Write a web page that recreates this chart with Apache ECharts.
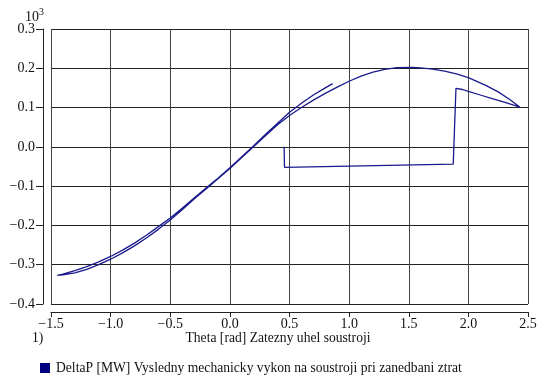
<!DOCTYPE html>
<html>
<head>
<meta charset="utf-8">
<script src="https://cdn.jsdelivr.net/npm/echarts@6/dist/echarts.min.js"></script>
<style>
  html, body { margin: 0; padding: 0; background: #fff; }
  #chart { width: 545px; height: 376px; }
</style>
</head>
<body>
<div id="chart"></div>
<script>
// Trajectory of the machine: load angle Theta [rad] vs. DeltaP [MW x 10^3], in time order.
const theta = [
  0.455, 0.458, 1.873, 1.896,
  1.95, 2.0, 2.1, 2.2, 2.3, 2.433,
  2.35, 2.25, 2.15, 2.0, 1.9, 1.8, 1.7, 1.6, 1.53, 1.4, 1.3, 1.2, 1.1, 1.0,
  0.9, 0.8, 0.7, 0.6, 0.5, 0.4, 0.3, 0.2, 0.1, 0.0,
  -0.1, -0.2, -0.3, -0.4, -0.5, -0.6, -0.7, -0.8, -0.9, -1.0,
  -1.1, -1.2, -1.3, -1.4, -1.447,
  -1.4, -1.3, -1.2, -1.1, -1.0, -0.9, -0.8, -0.7, -0.6, -0.5,
  -0.4, -0.3, -0.2, -0.1, 0.0, 0.1, 0.2, 0.3, 0.4, 0.5,
  0.6, 0.7, 0.8, 0.862
];
const deltaP = [
  0.000, -0.052, -0.044, 0.149,
  0.146, 0.141, 0.132, 0.123, 0.114, 0.101,
  0.120, 0.140, 0.156, 0.176, 0.186, 0.193, 0.198, 0.201, 0.2025, 0.2015, 0.197, 0.190, 0.180, 0.167,
  0.152, 0.136, 0.119, 0.100, 0.080, 0.056, 0.029, 0.001, -0.027, -0.055,
  -0.081, -0.107, -0.133, -0.160, -0.186, -0.210, -0.232, -0.252, -0.270, -0.286,
  -0.300, -0.312, -0.321, -0.326, -0.327,
  -0.324, -0.315, -0.305, -0.293, -0.279, -0.263, -0.245, -0.225, -0.203, -0.181,
  -0.156, -0.130, -0.105, -0.080, -0.053, -0.025, 0.003, 0.032, 0.060, 0.088,
  0.111, 0.132, 0.150, 0.161
];

const xTicks = { min: -1.5, max: 2.5, step: 0.5 };
const yTicks = { min: -0.4, max: 0.3, step: 0.1 };

const seriesName = 'DeltaP [MW] Vysledny mechanicky vykon na soustroji pri zanedbani ztrat';
const xTitle = 'Theta [rad] Zatezny uhel soustroji';
const plotIndex = '1)';

const FONT = '"Liberation Serif", "DejaVu Serif", serif';
const INK = '#111';
const FS = 14;
const FS_TEXT = 13.6;

const fmt = v => {
  if (Math.abs(v) < 1e-9) return '0.0';
  return (v < 0 ? '\u2212' : '') + Math.abs(v).toFixed(1);
};

const points = theta.map((t, i) => [t, deltaP[i]]);

const chart = echarts.init(document.getElementById('chart'), null, { renderer: 'canvas' });
chart.setOption({
  animation: false,
  backgroundColor: '#fff',
  grid: { left: 51, right: 17, top: 29, bottom: 72, containLabel: false },
  xAxis: {
    type: 'value',
    min: xTicks.min, max: xTicks.max, interval: xTicks.step,
    offset: 8,
    axisLine: { show: true, onZero: false, lineStyle: { color: '#222', width: 1 } },
    axisTick: { show: true, inside: false, length: 5, lineStyle: { color: '#222' } },
    axisLabel: { margin: 5, color: INK, fontFamily: FONT, fontSize: FS, formatter: fmt,
                 showMinLabel: true, showMaxLabel: true },
    splitLine: { show: true, lineStyle: { color: '#444', width: 1 } }
  },
  yAxis: {
    type: 'value',
    min: yTicks.min, max: yTicks.max, interval: yTicks.step,
    offset: 8,
    axisLine: { show: true, onZero: false, lineStyle: { color: '#222', width: 1 } },
    axisTick: { show: true, inside: false, length: 7, lineStyle: { color: '#222' } },
    axisLabel: { margin: 8, color: INK, fontFamily: FONT, fontSize: FS, formatter: fmt,
                 showMinLabel: true, showMaxLabel: true },
    splitLine: { show: true, lineStyle: { color: '#222', width: 1 } }
  },
  legend: {
    show: true,
    left: 35, top: 356,
    itemWidth: 10, itemHeight: 10,
    data: [{ name: seriesName, icon: 'rect' }],
    textStyle: { color: INK, fontFamily: FONT, fontSize: FS_TEXT, padding: [0, 0, 0, 1] }
  },
  graphic: [
    {
      type: 'text', left: 25, top: 7,
      style: {
        text: '{b|10}{s|3}',
        rich: {
          b: { fontFamily: FONT, fontSize: FS, fill: INK, verticalAlign: 'bottom', lineHeight: 17 },
          s: { fontFamily: FONT, fontSize: 10, fill: INK, verticalAlign: 'top', lineHeight: 17, padding: [0, 0, 8, 0] }
        }
      }
    },
    {
      type: 'text', left: 32, top: 331,
      style: { text: plotIndex, fontFamily: FONT, fontSize: FS_TEXT, fill: INK }
    },
    {
      type: 'text', x: 278, y: 338,
      style: { text: xTitle, fontFamily: FONT, fontSize: FS_TEXT, fill: INK, align: 'center', verticalAlign: 'middle' }
    }
  ],
  series: [{
    name: seriesName,
    type: 'line',
    data: points,
    color: '#000080',
    showSymbol: false,
    symbol: 'none',
    smooth: false,
    clip: true,
    lineStyle: { color: '#1a1a8c', width: 1.3 }
  }]
});
</script>
</body>
</html>
